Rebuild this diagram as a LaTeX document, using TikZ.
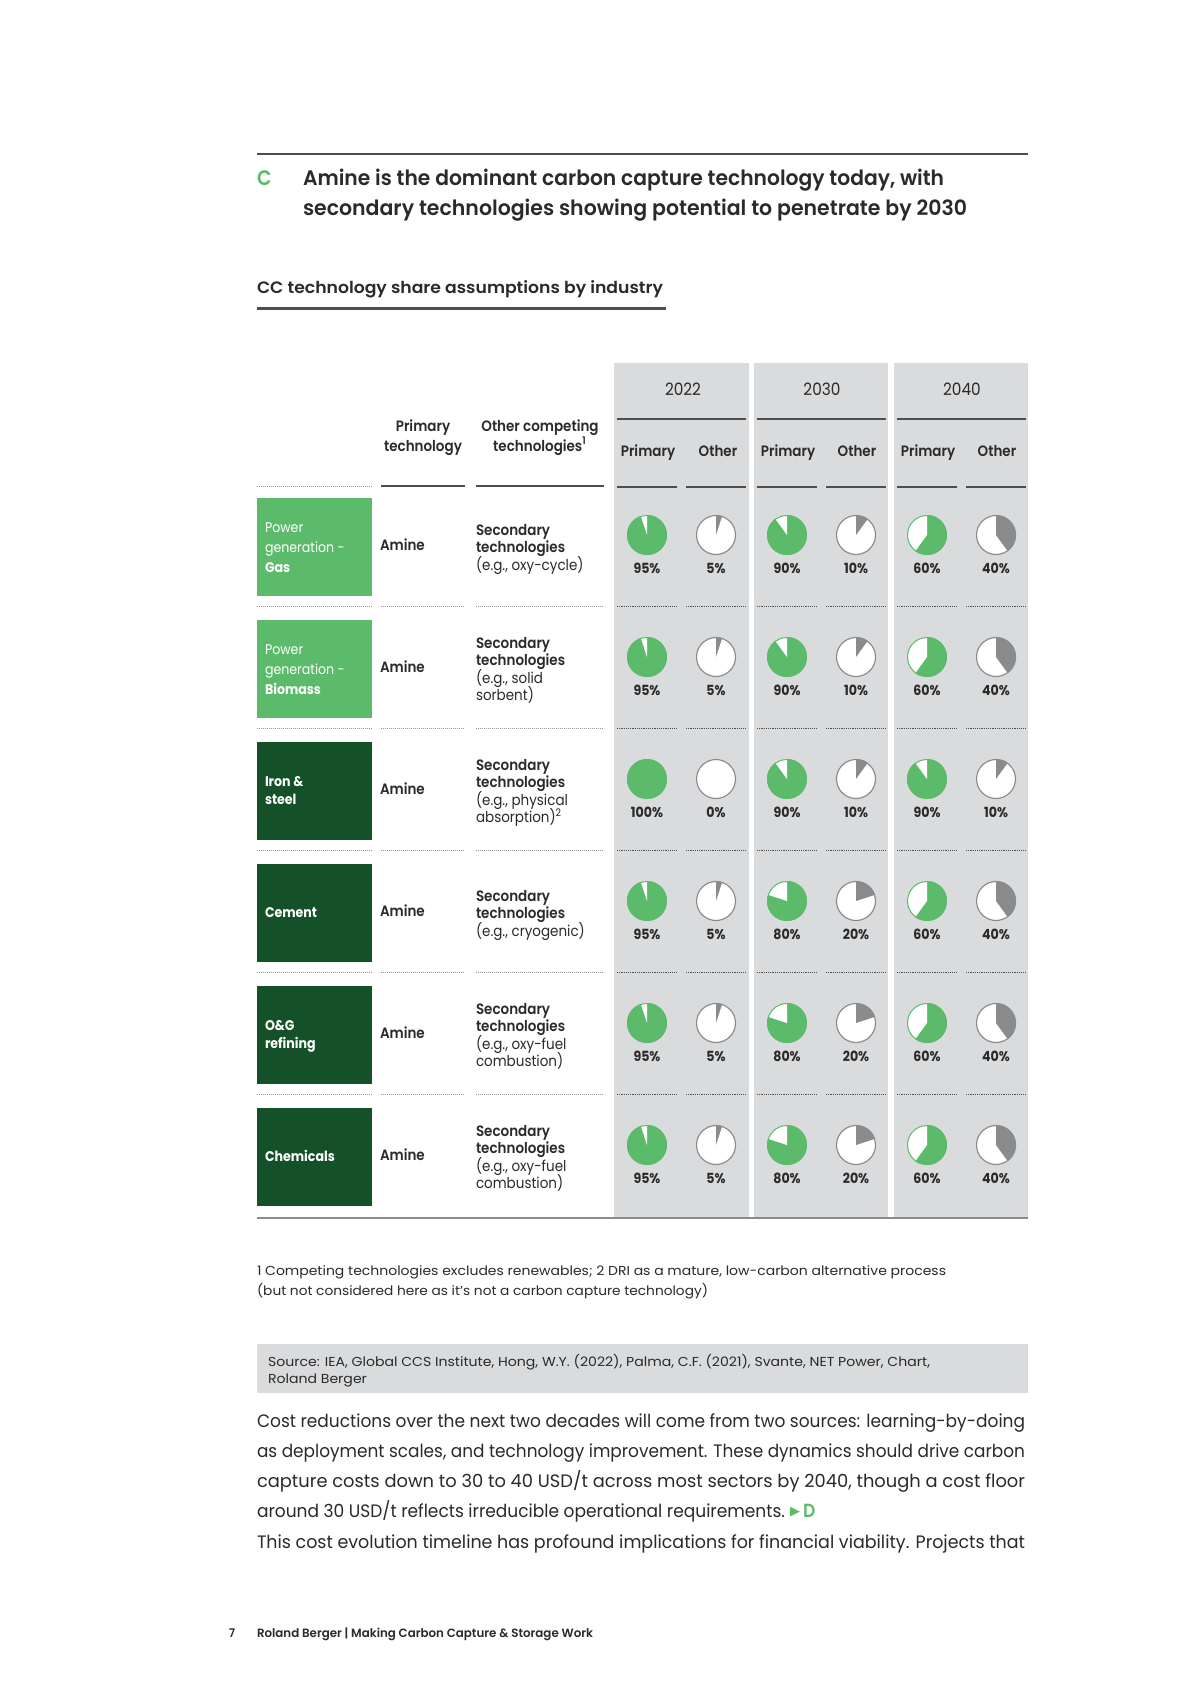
\documentclass[tikz,border=0pt]{standalone}
\usepackage{fontspec}
\usepackage{graphicx}
\setmainfont{Poppins}[FakeStretch=0.9]
\newfontfamily\semib{Poppins SemiBold}[FakeStretch=0.9]
\newfontfamily\dejavu{DejaVu Sans}
\definecolor{cgreen}{RGB}{91,187,106}
\definecolor{dgreen}{RGB}{20,80,40}
\definecolor{colbg}{RGB}{218,219,221}
\definecolor{wedge}{RGB}{138,139,141}
\definecolor{txt}{RGB}{42,42,42}
\definecolor{rulec}{RGB}{78,78,78}
\definecolor{dotc}{RGB}{150,150,150}
\newcommand\fitto[2]{\resizebox{#1}{\height}{#2}}
\tikzset{
  every node/.style={inner sep=0pt, outer sep=0pt, text=txt},
  tl/.style={anchor=base west},
  tc/.style={anchor=base},
  ttl/.style={font=\semib\fontsize{10.5}{12}\selectfont},
  subt/.style={font=\semib\fontsize{8.25}{10}\selectfont},
  yr/.style={font=\fontsize{8.5}{10}\selectfont},
  hdr/.style={font=\semib\fontsize{7.5}{9}\selectfont},
  boxt/.style={font=\fontsize{7}{8}\selectfont, text=white},
  boxb/.style={font=\bfseries\fontsize{7}{8}\selectfont, text=white},
  amine/.style={font=\semib\fontsize{7.5}{9}\selectfont},
  sect/.style={font=\semib\fontsize{7.5}{9}\selectfont},
  secr/.style={font=\fontsize{7.5}{9}\selectfont},
  pct/.style={font=\bfseries\fontsize{7}{8}\selectfont},
  foot/.style={font=\fontsize{6.5}{8}\selectfont},
  bodyt/.style={font=\fontsize{9}{11}\selectfont},
  pagef/.style={font=\semib\fontsize{6}{7}\selectfont},
  toprule/.style={draw=rulec, line width=1pt},
  hrule/.style={draw=rulec, line width=1pt},
  dotlt/.style={draw=dotc, line width=0.5pt, dash pattern=on 0.5pt off 0.5pt},
  dotdk/.style={draw=rulec, line width=0.5pt, dash pattern=on 0.6pt off 0.5pt},
  pics/ppie/.style={code={
    \fill[cgreen] (0,0) circle[radius=20];
    \ifnum#1<100\relax
      \fill[white] (0,0) -- (-90:20) arc[start angle=-90, delta angle={-3.6*(100-#1)}, radius=20] -- cycle;
    \fi
    \draw[cgreen, line width=0.5pt] (0,0) circle[radius=19.5];
  }},
  pics/opie/.style={code={
    \fill[white] (0,0) circle[radius=20];
    \ifnum#1>0\relax
      \fill[wedge] (0,0) -- (-90:20) arc[start angle=-90, delta angle={3.6*#1}, radius=20] -- cycle;
    \fi
    \draw[wedge, line width=0.6pt] (0,0) circle[radius=19.5];
  }},
}
\begin{document}
\begin{tikzpicture}[x=0.5pt,y=-0.5pt]
\useasboundingbox (0,0) rectangle (1200,1698);
\fill[white] (0,0) rectangle (1200,1698);

% title block
\draw[toprule] (257,154) -- (1028,154);
\node[tl,ttl,text=cgreen] (tC) at (257,185) {C};
\node[tl,ttl] (t1) at (303,185) {\fitto{320.5pt}{Amine is the dominant carbon capture technology today, with}};
\node[tl,ttl] (t2) at (303,215) {\fitto{332pt}{secondary technologies showing potential to penetrate by 2030}};
\node[tl,subt] (st) at (257,293) {\fitto{203pt}{CC technology share assumptions by industry}};
\draw[rulec, line width=1.5pt] (257,308) -- (666,308);

% year columns
\fill[colbg] (614,363) rectangle (749,1217);
\fill[colbg] (754,363) rectangle (888,1217);
\fill[colbg] (894,363) rectangle (1028,1217);
\node[tc,yr] (y1) at (683,395) {2022};
\node[tc,yr] (y2) at (822,395) {2030};
\node[tc,yr] (y3) at (962,395) {2040};
\foreach \a/\b in {617/746, 757/886, 897/1026} \draw[hrule] (\a,419) -- (\b,419);
\foreach \x/\t [count=\i] in {648/Primary, 718/Other, 788/Primary, 857/Other, 928/Primary, 997/Other}
  \node[tc,hdr] (sh\i) at (\x,456) {\t};
\foreach \a/\b in {617/677,686/746,757/817,826/886,897/957,966/1026} \draw[hrule] (\a,487) -- (\b,487);

% left headers
\node[tc,hdr] (hp1) at (423,431) {Primary};
\node[tc,hdr] (hp2) at (423,451) {technology};
\node[tc,hdr] (ho1) at (540,431) {Other competing};
\node[tc,hdr] (ho2) at (540,451) {technologies\textsuperscript{1}};
\draw[dotlt] (257,486) -- (373,486);
\draw[hrule] (381,486) -- (465,486);
\draw[hrule] (476,486) -- (604,486);

% row separators
\foreach \k in {0,...,4} {
  \pgfmathsetmacro\yy{606+122*\k}
  \draw[dotlt] (257,\yy) -- (373,\yy);
  \draw[dotlt] (381,\yy) -- (465,\yy);
  \draw[dotlt] (476,\yy) -- (604,\yy);
  \foreach \a/\b in {617/677,686/746,757/817,826/886,897/957,966/1026}
    \draw[dotdk] (\a,\yy) -- (\b,\yy);
}
\draw[draw=wedge, line width=1.25pt] (257,1218) -- (1028,1218);

% industry boxes
\foreach \r/\c in {0/cgreen,1/cgreen,2/dgreen,3/dgreen,4/dgreen,5/dgreen} {
  \pgfmathsetmacro\yt{498+122*\r}
  \pgfmathsetmacro\yb{596+122*\r}
  \fill[\c] (257,\yt) rectangle (372,\yb);
}
\node[tl,boxt] (b0a) at (265,532) {Power};
\node[tl,boxt] (b0b) at (265,552) {generation -};
\node[tl,boxb] (b0c) at (265,572) {Gas};
\node[tl,boxt] (b1a) at (265,654) {Power};
\node[tl,boxt] (b1b) at (265,674) {generation -};
\node[tl,boxb] (b1c) at (265,694) {Biomass};
\node[tl,boxb] (b2a) at (265,786) {Iron \&};
\node[tl,boxb] (b2b) at (265,804) {steel};
\node[tl,boxb] (b3a) at (265,917) {Cement};
\node[tl,boxb] (b4a) at (265,1030) {O\&G};
\node[tl,boxb] (b4b) at (265,1048) {refining};
\node[tl,boxb] (b5a) at (265,1161) {Chemicals};

% primary technology
\foreach \r in {0,...,5} {
  \pgfmathsetmacro\ay{550+122*\r}
  \node[tl,amine] (am\r) at (380,\ay) {Amine};
}

% other competing technologies
\node[tl,sect] (s0a) at (476,535) {Secondary};
\node[tl,sect] (s0b) at (476,552.5) {technologies};
\node[tl,secr] (s0c) at (476,570) {(e.g., oxy-cycle)};
\node[tl,sect] (s1a) at (476,648.25) {Secondary};
\node[tl,sect] (s1b) at (476,665.75) {technologies};
\node[tl,secr] (s1c) at (476,683.25) {(e.g., solid};
\node[tl,secr] (s1d) at (476,700.75) {sorbent)};
\node[tl,sect] (s2a) at (476,770.25) {Secondary};
\node[tl,sect] (s2b) at (476,787.75) {technologies};
\node[tl,secr] (s2c) at (476,805.25) {(e.g., physical};
\node[tl,secr] (s2d) at (476,822.75) {absorption)\textsuperscript{2}};
\node[tl,sect] (s3a) at (476,901) {Secondary};
\node[tl,sect] (s3b) at (476,918.5) {technologies};
\node[tl,secr] (s3c) at (476,936) {(e.g., cryogenic)};
\node[tl,sect] (s4a) at (476,1014.25) {Secondary};
\node[tl,sect] (s4b) at (476,1031.75) {technologies};
\node[tl,secr] (s4c) at (476,1049.25) {(e.g., oxy-fuel};
\node[tl,secr] (s4d) at (476,1066.75) {combustion)};
\node[tl,sect] (s5a) at (476,1136.25) {Secondary};
\node[tl,sect] (s5b) at (476,1153.75) {technologies};
\node[tl,secr] (s5c) at (476,1171.25) {(e.g., oxy-fuel};
\node[tl,secr] (s5d) at (476,1188.75) {combustion)};

% pies and shares
\foreach \r/\pa/\oa/\pb/\ob/\pc/\oc in {0/95/5/90/10/60/40, 1/95/5/90/10/60/40, 2/100/0/90/10/90/10, 3/95/5/80/20/60/40, 4/95/5/80/20/60/40, 5/95/5/80/20/60/40} {
  \pgfmathsetmacro\py{535+122*\r}
  \pgfmathsetmacro\ly{573+122*\r}
  \pic at (647,\py) {ppie=\pa};
  \pic at (716,\py) {opie=\oa};
  \pic at (787,\py) {ppie=\pb};
  \pic at (856,\py) {opie=\ob};
  \pic at (927,\py) {ppie=\pc};
  \pic at (996,\py) {opie=\oc};
  \node[tc,pct] (l\r-1) at (647,\ly) {\pa\%};
  \node[tc,pct] (l\r-2) at (716,\ly) {\oa\%};
  \node[tc,pct] (l\r-3) at (787,\ly) {\pb\%};
  \node[tc,pct] (l\r-4) at (856,\ly) {\ob\%};
  \node[tc,pct] (l\r-5) at (927,\ly) {\pc\%};
  \node[tc,pct] (l\r-6) at (996,\ly) {\oc\%};
}

% footnotes
\node[tl,foot] (fn1) at (257,1275) {\fitto{344.5pt}{1 Competing technologies excludes renewables; 2 DRI as a mature, low-carbon alternative process}};
\node[tl,foot] (fn2) at (257,1295) {\fitto{225.5pt}{(but not considered here as it's not a carbon capture technology)}};

% source
\fill[colbg] (257,1344) rectangle (1028,1393);
\node[tl,foot] (src1) at (268,1366) {\fitto{331pt}{Source: IEA, Global CCS Institute, Hong, W.Y. (2022), Palma, C.F. (2021), Svante, NET Power, Chart,}};
\node[tl,foot] (src2) at (268,1383) {\fitto{49.5pt}{Roland Berger}};

% body text
\node[tl,bodyt] (bt1) at (257,1427) {\fitto{384pt}{Cost reductions over the next two decades will come from two sources: learning-by-doing}};
\node[tl,bodyt] (bt2) at (257,1457) {\fitto{384pt}{as deployment scales, and technology improvement. These dynamics should drive carbon}};
\node[tl,bodyt] (bt3) at (257,1487) {\fitto{384pt}{capture costs down to 30 to 40 USD/t across most sectors by 2040, though a cost floor}};
\node[tl,bodyt] (bt4) at (257,1517) {\fitto{264pt}{around 30 USD/t reflects irreducible operational requirements.}};
\node[tl,text=cgreen,font=\dejavu\fontsize{6.5}{8}\selectfont] (tri) at (790,1515) {▶};
\node[tl,text=cgreen,font=\semib\fontsize{9.5}{11}\selectfont] (dref) at (803,1517) {D};
\node[tl,bodyt] (bt5) at (257,1548) {\fitto{384pt}{This cost evolution timeline has profound implications for financial viability. Projects that}};

% page footer
\node[tl,pagef] (pnum) at (229,1637) {7};
\node[tl,pagef] (pft) at (257,1637) {\fitto{168pt}{Roland Berger | Making Carbon Capture \& Storage Work}};
\end{tikzpicture}
\end{document}
